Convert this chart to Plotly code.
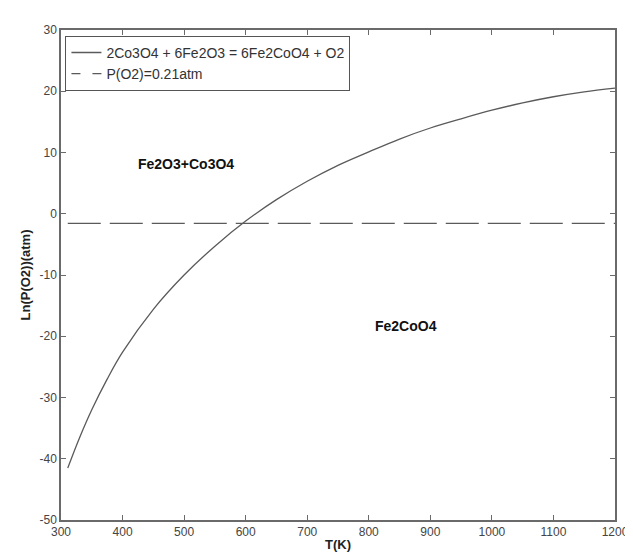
import plotly.graph_objects as go

# Data
T_curve = [311, 330, 350, 375, 400, 450, 500, 550, 600, 650, 700, 750, 800,
           850, 900, 950, 1000, 1050, 1100, 1150, 1200]
lnP_curve = [-41.5, -36.6, -32.0, -27.0, -22.6, -15.6, -10.0, -5.3, -1.2, 2.3,
             5.3, 7.9, 10.1, 12.2, 14.0, 15.5, 16.9, 18.1, 19.1, 19.9, 20.5]
T_ref = [311, 1200]
lnP_ref = [-1.56, -1.56]

series_names = ["2Co3O4 + 6Fe2O3 = 6Fe2CoO4 + O2", "P(O2)=0.21atm"]
region_labels = ["Fe2O3+Co3O4", "Fe2CoO4"]
region_T = [503, 860]
region_lnP = [8.2, -18.3]

x_ticks = [300, 400, 500, 600, 700, 800, 900, 1000, 1100, 1200]
y_ticks = [30, 20, 10, 0, -10, -20, -30, -40, -50]
y_tick_text = ["30", "20", "10", "0", "-10", "-20", "-30", "-40", "-50"]

line_col = "#5a5a5a"
axis_col = "#6a6a6a"
font_fam = "Liberation Sans, Arial, sans-serif"

fig = go.Figure()
fig.add_trace(go.Scatter(x=T_curve, y=lnP_curve, mode="lines", name=series_names[0],
                         line=dict(color=line_col, width=1.3, shape="spline")))
fig.add_trace(go.Scatter(x=T_ref, y=lnP_ref, mode="lines", name=series_names[1],
                         showlegend=False,
                         line=dict(color=line_col, width=1.3, dash="33px,9px")))
# legend entry for the dashed line (shorter dash pattern so it reads as dashed)
fig.add_trace(go.Scatter(x=[None], y=[None], mode="lines", name=series_names[1],
                         line=dict(color=line_col, width=1.3, dash="9px,12px")))

for lab, tx, ty in zip(region_labels, region_T, region_lnP):
    fig.add_annotation(x=tx, y=ty, text="<b>" + lab + "</b>", showarrow=False,
                       font=dict(family=font_fam, size=14, color="#111"))

axis_common = dict(showline=True, linecolor=axis_col, linewidth=1.5, mirror="allticks",
                   ticks="inside", ticklen=5, tickcolor=axis_col, tickwidth=1,
                   showgrid=False, zeroline=False,
                   tickfont=dict(family=font_fam, size=12, color="#444"))

fig.update_layout(
    width=633, height=554,
    margin=dict(l=53, r=12, t=22, b=34),
    paper_bgcolor="white", plot_bgcolor="white",
    font=dict(family=font_fam, color="#222"),
    xaxis=dict(range=[300, 1200], tickvals=x_ticks,
               title=dict(text="<b>T(K)</b>", standoff=2,
                          font=dict(family=font_fam, size=13, color="#222")),
               **axis_common),
    yaxis=dict(range=[-50, 30], tickvals=y_ticks, ticktext=y_tick_text,
               title=dict(text="<b>Ln(P(O2))(atm)</b>", standoff=6,
                          font=dict(family=font_fam, size=13, color="#222")),
               **axis_common),
    legend=dict(x=0.008, y=0.988, xanchor="left", yanchor="top",
                bgcolor="white", bordercolor="#555", borderwidth=1,
                font=dict(family=font_fam, size=14, color="#333"),
                tracegroupgap=0, itemwidth=30),
    showlegend=True,
)

fig.write_html("out.html")
